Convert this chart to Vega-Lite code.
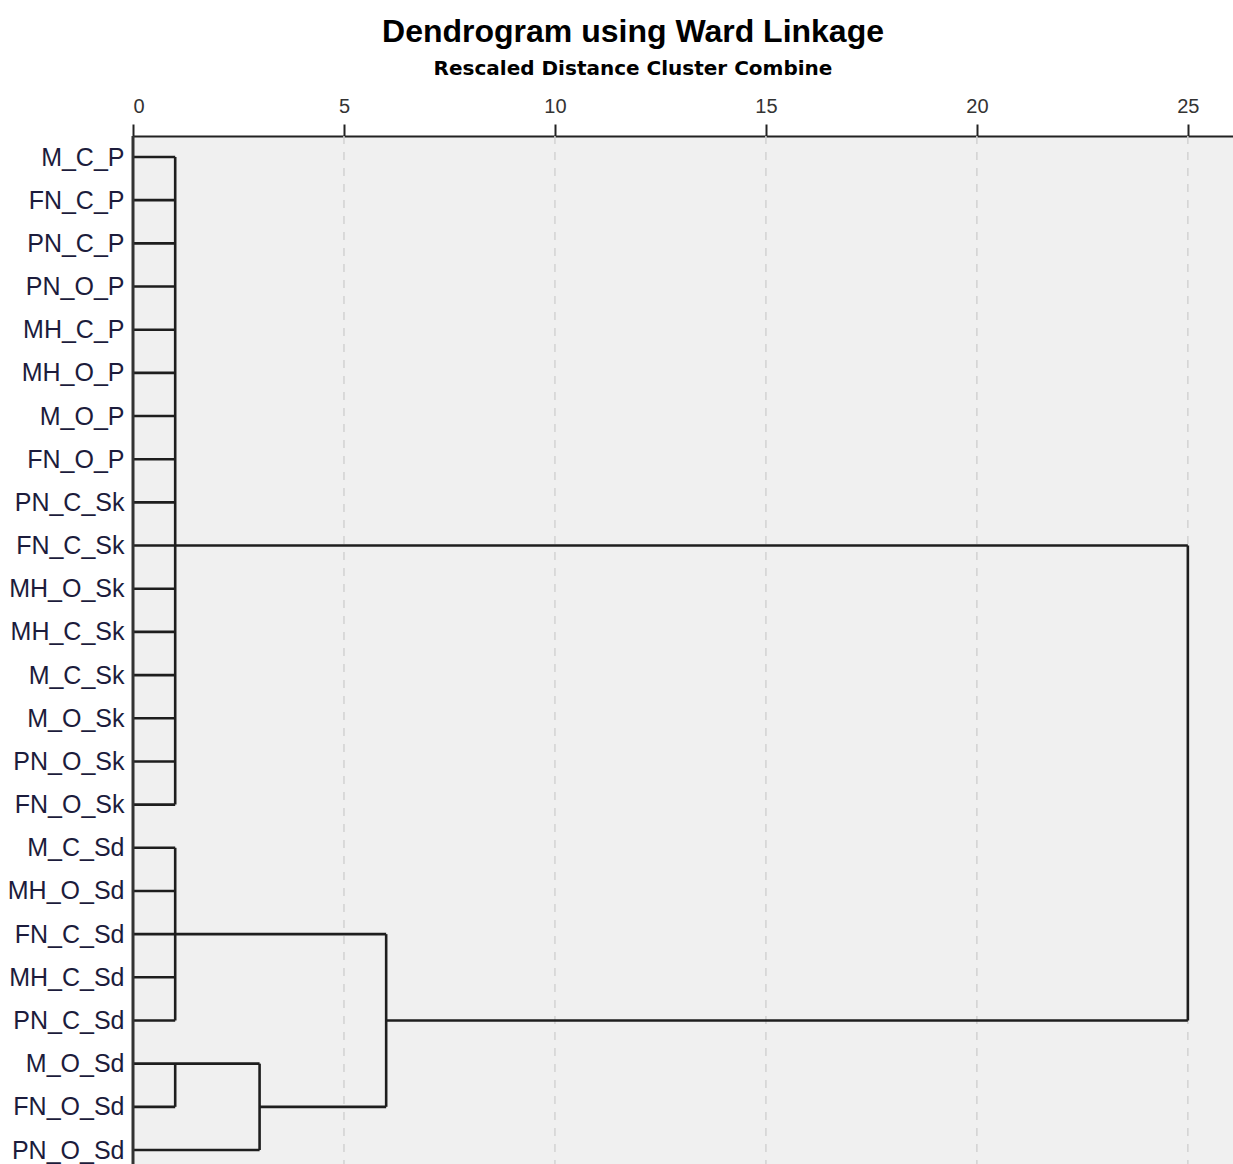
{
  "$schema": "https://vega.github.io/schema/vega-lite/v6.json",
  "autosize": "none",
  "width": 1100,
  "height": 1028,
  "padding": {"left": 133, "top": 136, "right": 0, "bottom": 0},
  "background": "white",
  "title": {
    "text": "Dendrogram using Ward Linkage",
    "subtitle": "Rescaled Distance Cluster Combine",
    "anchor": "middle",
    "frame": "group",
    "dx": -50,
    "font": "Liberation Sans",
    "fontSize": 32,
    "fontWeight": "bold",
    "color": "#000000",
    "subtitleFont": "DejaVu Sans",
    "subtitleFontSize": 20,
    "subtitleFontWeight": "bold",
    "subtitleColor": "#000000",
    "subtitlePadding": 10,
    "offset": 16
  },
  "config": {
    "view": {"fill": "#f0f0f0", "stroke": null}
  },
  "datasets": {
    "segments": [
      {"x": 0, "x2": 1, "y": "M_C_P", "y2": "M_C_P"},
      {"x": 0, "x2": 1, "y": "FN_C_P", "y2": "FN_C_P"},
      {"x": 0, "x2": 1, "y": "PN_C_P", "y2": "PN_C_P"},
      {"x": 0, "x2": 1, "y": "PN_O_P", "y2": "PN_O_P"},
      {"x": 0, "x2": 1, "y": "MH_C_P", "y2": "MH_C_P"},
      {"x": 0, "x2": 1, "y": "MH_O_P", "y2": "MH_O_P"},
      {"x": 0, "x2": 1, "y": "M_O_P", "y2": "M_O_P"},
      {"x": 0, "x2": 1, "y": "FN_O_P", "y2": "FN_O_P"},
      {"x": 0, "x2": 1, "y": "PN_C_Sk", "y2": "PN_C_Sk"},
      {"x": 0, "x2": 1, "y": "FN_C_Sk", "y2": "FN_C_Sk"},
      {"x": 0, "x2": 1, "y": "MH_O_Sk", "y2": "MH_O_Sk"},
      {"x": 0, "x2": 1, "y": "MH_C_Sk", "y2": "MH_C_Sk"},
      {"x": 0, "x2": 1, "y": "M_C_Sk", "y2": "M_C_Sk"},
      {"x": 0, "x2": 1, "y": "M_O_Sk", "y2": "M_O_Sk"},
      {"x": 0, "x2": 1, "y": "PN_O_Sk", "y2": "PN_O_Sk"},
      {"x": 0, "x2": 1, "y": "FN_O_Sk", "y2": "FN_O_Sk"},
      {"x": 1, "x2": 1, "y": "M_C_P", "y2": "FN_O_Sk"},
      {"x": 1, "x2": 25, "y": "FN_C_Sk", "y2": "FN_C_Sk"},
      {"x": 0, "x2": 1, "y": "M_C_Sd", "y2": "M_C_Sd"},
      {"x": 0, "x2": 1, "y": "MH_O_Sd", "y2": "MH_O_Sd"},
      {"x": 0, "x2": 1, "y": "FN_C_Sd", "y2": "FN_C_Sd"},
      {"x": 0, "x2": 1, "y": "MH_C_Sd", "y2": "MH_C_Sd"},
      {"x": 0, "x2": 1, "y": "PN_C_Sd", "y2": "PN_C_Sd"},
      {"x": 1, "x2": 1, "y": "M_C_Sd", "y2": "PN_C_Sd"},
      {"x": 1, "x2": 6, "y": "FN_C_Sd", "y2": "FN_C_Sd"},
      {"x": 0, "x2": 3, "y": "M_O_Sd", "y2": "M_O_Sd"},
      {"x": 0, "x2": 1, "y": "FN_O_Sd", "y2": "FN_O_Sd"},
      {"x": 1, "x2": 1, "y": "M_O_Sd", "y2": "FN_O_Sd"},
      {"x": 0, "x2": 3, "y": "PN_O_Sd", "y2": "PN_O_Sd"},
      {"x": 3, "x2": 3, "y": "M_O_Sd", "y2": "PN_O_Sd"},
      {"x": 3, "x2": 6, "y": "FN_O_Sd", "y2": "FN_O_Sd"},
      {"x": 6, "x2": 6, "y": "FN_C_Sd", "y2": "FN_O_Sd"},
      {"x": 6, "x2": 25, "y": "PN_C_Sd", "y2": "PN_C_Sd"},
      {"x": 25, "x2": 25, "y": "FN_C_Sk", "y2": "PN_C_Sd"}
    ],
    "gridlines": [{"x": 5}, {"x": 10}, {"x": 15}, {"x": 20}, {"x": 25}],
    "baseline": [{"x": 0}]
  },
  "layer": [
    {
      "data": {"name": "gridlines"},
      "mark": {"type": "rule", "color": "#d2d2d2", "strokeWidth": 1.5, "strokeDash": [8, 8]},
      "encoding": {
        "x": {"field": "x", "type": "quantitative"}
      }
    },
    {
      "data": {"name": "segments"},
      "mark": {"type": "rule", "color": "#1e1e1e", "strokeWidth": 2.6},
      "encoding": {
        "x": {
          "field": "x",
          "type": "quantitative",
          "scale": {"domain": [0, 26.07], "nice": false, "zero": false},
          "axis": {
            "orient": "top",
            "title": null,
            "values": [0, 5, 10, 15, 20, 25],
            "labelFont": "Liberation Sans",
            "labelFontSize": 20,
            "labelColor": "#333333",
            "labelPadding": 8,
            "tickSize": 12,
            "tickColor": "#222222",
            "tickWidth": 2,
            "domainColor": "#222222",
            "domainWidth": 2,
            "grid": false
          }
        },
        "x2": {"field": "x2"},
        "y": {
          "field": "y",
          "type": "ordinal",
          "sort": null,
          "scale": {
            "type": "point",
            "domain": ["M_C_P", "FN_C_P", "PN_C_P", "PN_O_P", "MH_C_P", "MH_O_P", "M_O_P", "FN_O_P", "PN_C_Sk", "FN_C_Sk", "MH_O_Sk", "MH_C_Sk", "M_C_Sk", "M_O_Sk", "PN_O_Sk", "FN_O_Sk", "M_C_Sd", "MH_O_Sd", "FN_C_Sd", "MH_C_Sd", "PN_C_Sd", "M_O_Sd", "FN_O_Sd", "PN_O_Sd"],
            "range": [21, 1014],
            "padding": 0
          },
          "axis": {
            "title": null,
            "domain": false,
            "ticks": false,
            "grid": false,
            "labelFont": "Liberation Sans",
            "labelFontSize": 25,
            "labelColor": "#1c1c3c",
            "labelPadding": 9
          }
        },
        "y2": {"field": "y2"}
      }
    },
    {
      "data": {"name": "baseline"},
      "mark": {"type": "rule", "color": "#333333", "strokeWidth": 3},
      "encoding": {
        "x": {"field": "x", "type": "quantitative"}
      }
    }
  ]
}
